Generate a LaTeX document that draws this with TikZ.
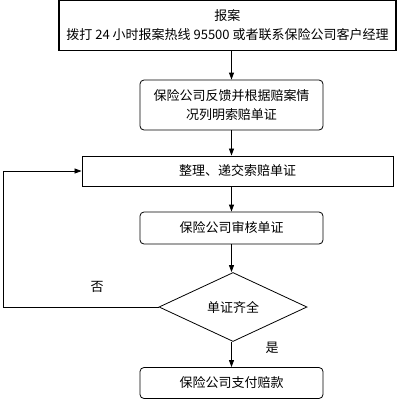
\documentclass[tikz,border=0pt]{standalone}
\usepackage{fontspec}
\newfontfamily\cjk{Noto Sans CJK SC}
\usetikzlibrary{arrows.meta,shapes.geometric}

\begin{document}
\begin{tikzpicture}[
    x=1pt,y=-1pt,
    font=\cjk\fontsize{13}{19}\selectfont,>={Triangle[length=7pt,width=5pt]},
    base/.style={draw,align=center,inner sep=2pt},
    box/.style={base,rectangle,line width=.9pt},
    rbox/.style={base,rectangle,rounded corners=4pt,line width=.8pt,minimum width=183,text width=170},
    check/.style={base,diamond,line width=.8pt,minimum width=148,minimum height=69,inner sep=0pt},
    link/.style={->,line width=.8pt},
    ]
    \useasboundingbox (0,0) rectangle (405,400);
    \node[box,line width=1.2pt,minimum width=337,minimum height=50] (report) at (227.5,25.5)
        {报案\\拨打 24 小时报案热线 95500 或者联系保险公司客户经理};
    \node[rbox,minimum height=50] (feedback) at (231.5,105)
        {保险公司反馈并根据赔案情\\况列明索赔单证};
    \node[box,minimum width=311,minimum height=30] (submit) at (237.5,171)
        {整理、递交索赔单证};
    \node[rbox,minimum height=32] (review) at (231.5,228) {保险公司审核单证};
    \node[check] (complete) at (233,307) {单证齐全};
    \node[rbox,minimum height=31] (pay) at (231.5,383) {保险公司支付赔款};
    \coordinate (loop) at (3,307);

    \draw[link] (report.south -| feedback.north) -- (feedback.north);
    \draw[link] (feedback.south) -- (submit.north -| feedback.south);
    \draw[link] (submit.south -| review.north) -- (review.north);
    \draw[link] (review.south) -- (complete.north -| review.south);
    \draw[link] (complete.south -| pay.north) -- (pay.north);
    \draw[link] (complete.west) -- (loop) |- (submit.west);

    \node (no) at (97,287) {否};
    \node (yes) at (272,348) {是};
\end{tikzpicture}
\end{document}
